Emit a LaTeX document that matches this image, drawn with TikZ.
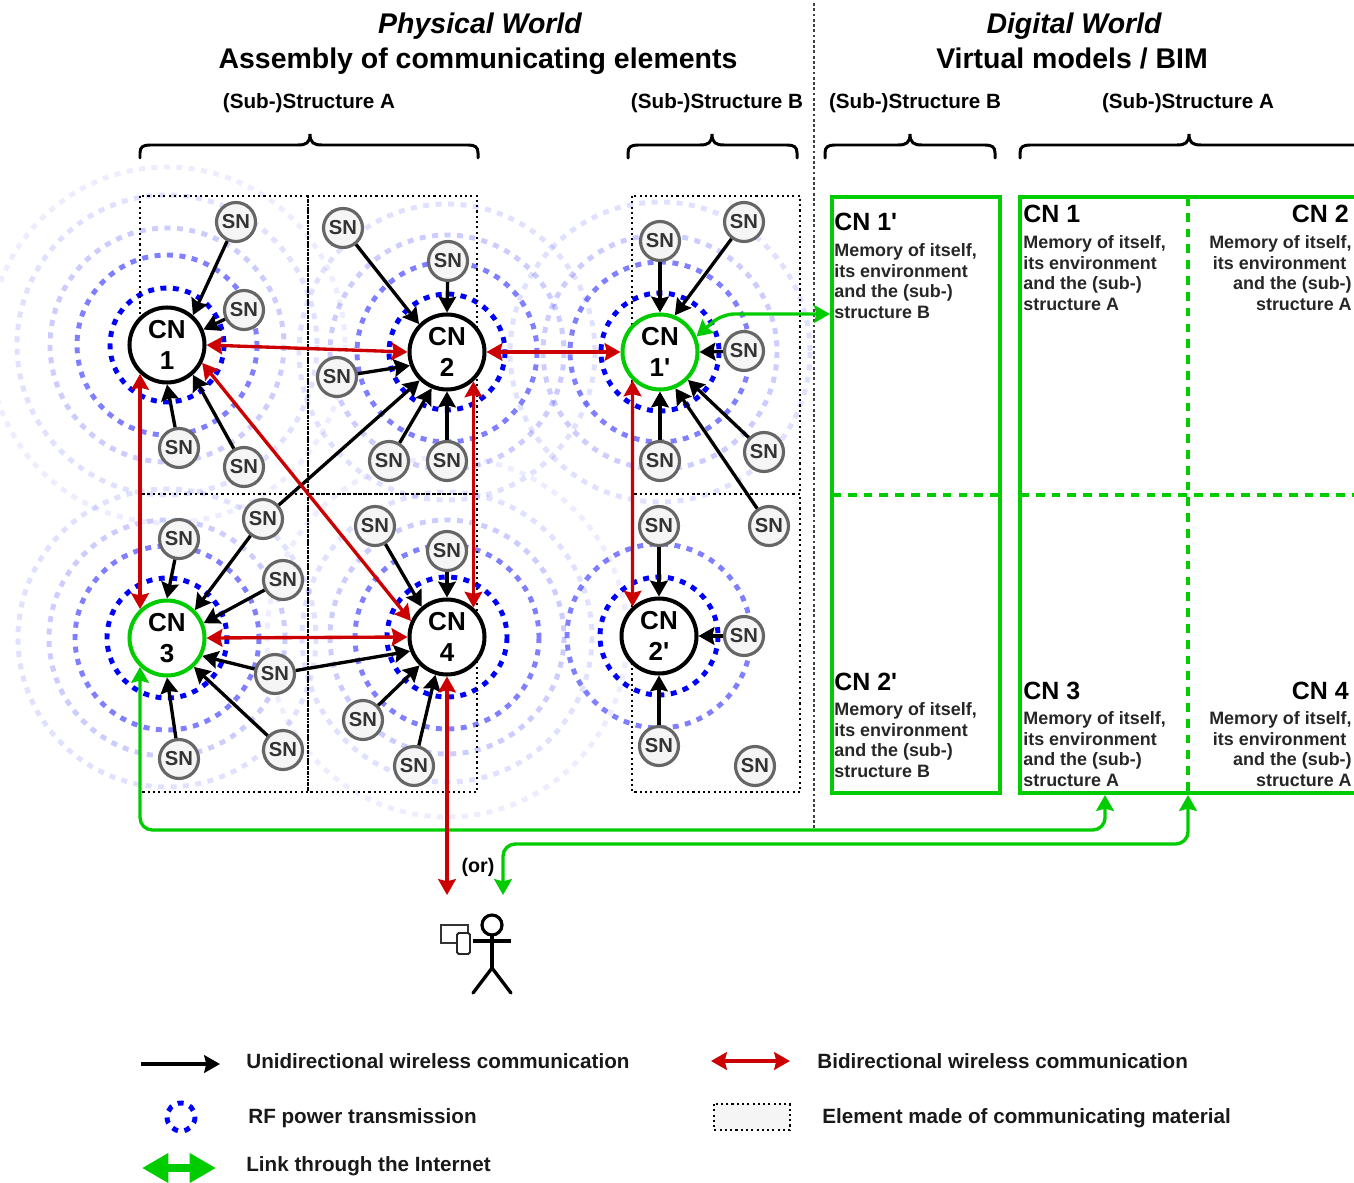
\documentclass[tikz,border=0pt]{standalone}
\usepackage{fontspec}
\setmainfont{Liberation Sans}[Ligatures=TeXOff]
\usetikzlibrary{arrows.meta}

\definecolor{linkgreen}{HTML}{00CC00}
\definecolor{bidired}{HTML}{CC0000}

\tikzset{
  cnnode/.style={circle,draw=black,fill=white,line width=2.3pt,minimum size=1.5cm,inner sep=0pt,align=center,
                 font=\fontsize{14.8}{18.1}\selectfont\bfseries},
  cngreen/.style={cnnode,draw=linkgreen},
  snnode/.style={circle,draw=black!60,fill=black!4,line width=1.8pt,minimum size=0.78cm,inner sep=0pt,text=black!80,
                 font=\fontsize{11.5}{12}\selectfont\bfseries},
  ringa/.style={draw=blue,line width=2.8pt,dash pattern=on 3.4pt off 3.7pt},
  ringb/.style={ringa,opacity=0.5},
  ringc/.style={ringa,opacity=0.2},
  ringd/.style={ringa,opacity=0.12},
  ringe/.style={ringa,opacity=0.07},
  cell/.style={line width=1.2pt,dash pattern=on 1.2pt off 1.8pt},
  unidir/.style={line width=1.9pt,-{Stealth[length=9pt,width=10pt,inset=1.2pt]}},
  bidir/.style={bidired,line width=1.9pt,{Stealth[length=9pt,width=10pt,inset=1.2pt]}-{Stealth[length=9pt,width=10pt,inset=1.2pt]}},
  link/.style={linkgreen,line width=1.9pt,rounded corners=7pt,{Stealth[length=9pt,width=10pt,inset=1.2pt]}-{Stealth[length=9pt,width=10pt,inset=1.2pt]}},
  memorybox/.style={linkgreen,line width=2.3pt},
  memorysplit/.style={linkgreen,line width=2.3pt,dash pattern=on 5pt off 4pt},
  bracket/.style={line width=1.7pt,line cap=round},
  title/.style={font=\fontsize{16.2}{18}\selectfont\bfseries,anchor=base},
  sublabel/.style={font=\fontsize{11.75}{14}\selectfont\bfseries,anchor=base},
  cnlabel/.style={font=\fontsize{14.2}{18}\selectfont\bfseries,inner sep=0pt},
  memoryl/.style={font=\fontsize{10.2}{11.7}\selectfont\bfseries,text=black!85,inner sep=0pt,align=left,anchor=west},
  memoryr/.style={font=\fontsize{10.2}{11.7}\selectfont\bfseries,text=black!85,inner sep=0pt,align=right,anchor=east},
  legend/.style={font=\fontsize{11.75}{14}\selectfont\bfseries,inner sep=0pt,anchor=base west,text=black!90},
}

\begin{document}
\begin{tikzpicture}[x=0.02cm,y=-0.02cm]
\useasboundingbox (0,0) rectangle (1354,1182);

% power rings
\draw[ringe] (167,345) circle (178);
\draw[ringd] (167,345) circle (150);
\draw[ringc] (167,345) circle (117);
\draw[ringb] (167,345) circle (90);
\draw[ringa] (167,345) circle (57);

\draw[ringd] (447,352) circle (148);
\draw[ringc] (447,352) circle (117);
\draw[ringb] (447,352) circle (90);
\draw[ringa] (447,352) circle (58);

\draw[ringd] (167,638) circle (149);
\draw[ringc] (167,638) circle (118);
\draw[ringb] (167,638) circle (92);
\draw[ringa] (167,638) circle (60);

\draw[ringe] (447,637) circle (180);
\draw[ringd] (447,637) circle (145);
\draw[ringc] (447,637) circle (117);
\draw[ringb] (447,637) circle (92);
\draw[ringa] (447,637) circle (60);

\draw[ringd] (660,352) circle (150);
\draw[ringc] (660,352) circle (117);
\draw[ringb] (660,352) circle (90);
\draw[ringa] (660,352) circle (59);

\draw[ringb] (659,636) circle (92);
\draw[ringa] (659,636) circle (59);

% communicating elements
\draw[cell] (140,196) rectangle (308,494);
\draw[cell] (308,196) rectangle (477,494);
\draw[cell] (140,494) rectangle (308,792);
\draw[cell] (308,494) rectangle (477,792);
\draw[cell] (632,196) rectangle (800,494);
\draw[cell] (632,494) rectangle (800,792);

% separation
\draw[black!75,line width=0.6pt,dash pattern=on 1.6pt off 1.4pt] (814,3) -- (814,830);

% titles
\node[title] (physical) at (480,34) {\itshape Physical World};
\node[title] (assembly) at (478,69) {Assembly of communicating elements};
\node[title] (digital) at (1074,34) {\itshape Digital World};
\node[title] (virtual) at (1072,69) {Virtual models / BIM};

\node[sublabel] (suba) at (309,109) {(Sub-)Structure A};
\node[sublabel] (subb) at (717,109) {(Sub-)Structure B};
\node[sublabel] (subbv) at (915,109) {(Sub-)Structure B};
\node[sublabel] (subav) at (1188,109) {(Sub-)Structure A};

\draw[bracket] (140,158) -- (140,153) .. controls (140,147) and (143,145) .. (150,145) -- (298,145)
  .. controls (306,145) and (310,143) .. (310,134) .. controls (310,143) and (314,145) .. (322,145) -- (468,145)
  .. controls (475,145) and (478,147) .. (478,153) -- (478,158);
\draw[bracket] (628,158) -- (628,153) .. controls (628,147) and (631,145) .. (638,145) -- (700,145)
  .. controls (708,145) and (712,143) .. (712,134) .. controls (712,143) and (716,145) .. (724,145) -- (787,145)
  .. controls (794,145) and (797,147) .. (797,153) -- (797,158);
\draw[bracket] (825,158) -- (825,153) .. controls (825,147) and (828,145) .. (835,145) -- (898,145)
  .. controls (906,145) and (910,143) .. (910,134) .. controls (910,143) and (914,145) .. (922,145) -- (985,145)
  .. controls (992,145) and (995,147) .. (995,153) -- (995,158);
\draw[bracket] (1020,158) -- (1020,153) .. controls (1020,147) and (1023,145) .. (1030,145) -- (1177,145)
  .. controls (1185,145) and (1189,143) .. (1189,134) .. controls (1189,143) and (1193,145) .. (1201,145) -- (1356,145);

% virtual models
\draw[memorybox] (832,197) rectangle (1000,793);
\draw[memorybox] (1020,197) rectangle (1360,793);
\draw[memorysplit] (832,495) -- (1000,495);
\draw[memorysplit] (1020,495) -- (1360,495);
\draw[memorysplit] (1188,197) -- (1188,793);

\node[cnlabel,anchor=west] (labela) at (834,222) {CN 1'};
\node[memoryl] (memorya) at (834,281) {Memory of itself,\\its environment\\and the (sub-)\\structure B};
\node[cnlabel,anchor=west] (labelb) at (834,682) {CN 2'};
\node[memoryl] (memoryb) at (834,740) {Memory of itself,\\its environment\\and the (sub-)\\structure B};

\node[cnlabel,anchor=west] (labelc) at (1023,214) {CN 1};
\node[memoryl] (memoryc) at (1023,273) {Memory of itself,\\its environment\\and the (sub-)\\structure A};
\node[cnlabel,anchor=east] (labeld) at (1349,214) {CN 2};
\node[memoryr] (memoryd) at (1352,273) {Memory of itself,\\\mbox{its environment\hspace{3pt}}\\and the (sub-)\\structure A};
\node[cnlabel,anchor=west] (labele) at (1023,691) {CN 3};
\node[memoryl] (memorye) at (1023,749) {Memory of itself,\\its environment\\and the (sub-)\\structure A};
\node[cnlabel,anchor=east] (labelf) at (1349,691) {CN 4};
\node[memoryr] (memoryf) at (1352,749) {Memory of itself,\\\mbox{its environment\hspace{3pt}}\\and the (sub-)\\structure A};

% central nodes
\node[cnnode] (cn1) at (167,345) {CN\\1};
\node[cnnode] (cn2) at (447,352) {CN\\2};
\node[cngreen] (cn3) at (167,638) {CN\\3};
\node[cnnode] (cn4) at (447,637) {CN\\4};
\node[cngreen] (cn1p) at (660,352) {CN\\1'};
\node[cnnode] (cn2p) at (659,636) {CN\\2'};

% sensing nodes
\node[snnode] (sn1a) at (236,222) {SN};
\node[snnode] (sn1b) at (244,310) {SN};
\node[snnode] (sn1c) at (179,448) {SN};
\node[snnode] (sn1d) at (244,467) {SN};

\node[snnode] (sn2a) at (343,228) {SN};
\node[snnode] (sn2b) at (448,261) {SN};
\node[snnode] (sn2c) at (337,377) {SN};
\node[snnode] (sn2d) at (389,461) {SN};
\node[snnode] (sn2e) at (447,461) {SN};

\node[snnode] (sn3a) at (179,539) {SN};
\node[snnode] (sn3b) at (263,519) {SN};
\node[snnode] (sn3c) at (283,580) {SN};
\node[snnode] (sn3d) at (275,674) {SN};
\node[snnode] (sn3e) at (283,750) {SN};
\node[snnode] (sn3f) at (179,759) {SN};

\node[snnode] (sn4a) at (375,526) {SN};
\node[snnode] (sn4b) at (447,551) {SN};
\node[snnode] (sn4c) at (363,720) {SN};
\node[snnode] (sn4d) at (414,766) {SN};

\node[snnode] (sn5a) at (660,241) {SN};
\node[snnode] (sn5b) at (744,222) {SN};
\node[snnode] (sn5c) at (744,351) {SN};
\node[snnode] (sn5d) at (764,452) {SN};
\node[snnode] (sn5e) at (769,526) {SN};
\node[snnode] (sn5f) at (660,461) {SN};

\node[snnode] (sn6a) at (659,526) {SN};
\node[snnode] (sn6b) at (744,636) {SN};
\node[snnode] (sn6c) at (659,746) {SN};
\node[snnode] (sn6d) at (755,766) {SN};

% unidirectional
\draw[unidir] (sn1a) -- (cn1.49);
\draw[unidir] (sn1b) -- (cn1.23);
\draw[unidir] (sn1c) -- (cn1.270);
\draw[unidir] (sn1d) -- (cn1.311);

\draw[unidir] (sn2a) -- (cn2.135);
\draw[unidir] (sn2b) -- (cn2.90);
\draw[unidir] (sn2c) -- (cn2.200);
\draw[unidir] (sn3b) -- (cn2.226);
\draw[unidir] (sn2d) -- (cn2.247);
\draw[unidir] (sn2e) -- (cn2.270);

\draw[unidir] (sn3a) -- (cn3.90);
\draw[unidir] (sn3b) -- (cn3.45);
\draw[unidir] (sn3c) -- (cn3.22);
\draw[unidir] (sn3d) -- (cn3.333);
\draw[unidir] (sn3e) -- (cn3.313);
\draw[unidir] (sn3f) -- (cn3.270);

\draw[unidir] (sn4a) -- (cn4.130);
\draw[unidir] (sn4b) -- (cn4.90);
\draw[unidir] (sn3d) -- (cn4.201);
\draw[unidir] (sn4c) -- (cn4.226);
\draw[unidir] (sn4d) -- (cn4.253);

\draw[unidir] (sn5a) -- (cn1p.90);
\draw[unidir] (sn5b) -- (cn1p.68);
\draw[unidir] (sn5c) -- (cn1p.0);
\draw[unidir] (sn5d) -- (cn1p.315);
\draw[unidir] (sn5e) -- (cn1p.293);
\draw[unidir] (sn5f) -- (cn1p.270);

\draw[unidir] (sn6a) -- (cn2p.90);
\draw[unidir] (sn6b) -- (cn2p.0);
\draw[unidir] (sn6c) -- (cn2p.270);

% bidirectional
\draw[bidir] (cn1.0) -- (cn2.180);
\draw[bidir] (cn2.0) -- (cn1p.180);
\draw[bidir] (cn3.0) -- (cn4.180);
\draw[bidir] (cn1.227) -- (cn3.133);
\draw[bidir] (cn2.312) -- (cn4.48);
\draw[bidir] (cn1.333) -- (cn4.156);
\draw[bidir] (cn1p.226) -- (cn2p.132);

% links
\coordinate (inboxb) at (830,314);
\coordinate (incn3) at (1105,795);
\coordinate (incn4) at (1188,795);
\coordinate (user) at (447,895);
\coordinate (userlink) at (503,895);

\draw[link] (cn1p.23) -- (722,314) -- (inboxb);
\draw[link] (cn3.227) |- (1105,830) -- (incn3);
\draw[link] (userlink) |- (1188,844) -- (incn4);
\draw[bidir] (cn4.270) -- (user);
\node[font=\fontsize{11.2}{12}\selectfont\bfseries] (ortext) at (478,867) {(or)};

% user
\draw[line width=1.8pt] (492,925) circle (10);
\draw[line width=1.9pt] (492,935) -- (492,968);
\draw[line width=1.9pt] (473,941) -- (511,941);
\draw[line width=1.9pt,line cap=round] (473,993) -- (492,968) -- (511,993);
\draw[black!80,line width=1.1pt] (441,925) rectangle (468,943);
\draw[black!85,fill=white,line width=1.1pt,rounded corners=1pt] (457,933) rectangle (470,954);

% legend
\coordinate (legaa) at (141,1064);
\coordinate (legab) at (220,1064);
\coordinate (legba) at (711,1061);
\coordinate (legbb) at (790,1061);
\coordinate (legca) at (142,1168);
\coordinate (legcb) at (216,1168);

\draw[unidir] (legaa) -- (legab);
\node[legend] (textuni) at (246,1068) {Unidirectional wireless communication};
\draw[bidir] (legba) -- (legbb);
\node[legend] (textbi) at (817,1068) {Bidirectional wireless communication};
\draw[ringa] (181,1117) circle (14);
\node[legend] (textrf) at (248,1123) {RF power transmission};
\draw[cell,fill=black!4] (714,1104) rectangle (790,1130);
\node[legend] (textel) at (822,1123) {Element made of communicating material};
\draw[linkgreen,line width=4.5pt,{Triangle[length=15pt,width=16pt]}-{Triangle[length=15pt,width=16pt]}] (legca) -- (legcb);
\node[legend] (textli) at (246,1171) {Link through the Internet};

\end{tikzpicture}
\end{document}
